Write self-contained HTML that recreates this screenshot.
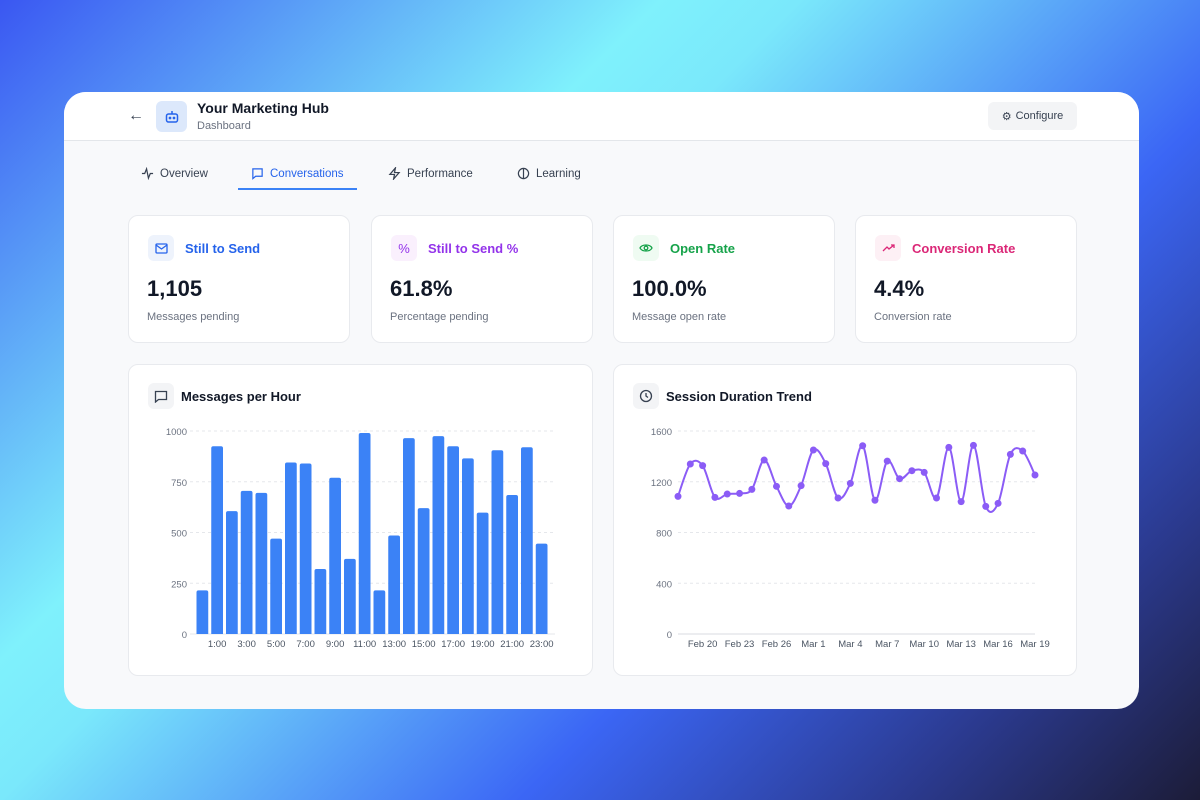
<!DOCTYPE html>
<html><head><meta charset="utf-8"><style>
*{box-sizing:border-box;margin:0;padding:0}
body{width:1200px;height:800px;overflow:hidden;font-family:"Liberation Sans",sans-serif;position:relative;
background:linear-gradient(135deg,#3a57f2 0%,#7ff1fc 33%,#7ae8fb 40%,#3b66f5 66%,#2b3a8f 85%,#1c1c38 100%)}
.abs{position:absolute}
.frame{left:64px;top:92px;width:1075px;height:617px;border-radius:22px;background:#f8f9fb;overflow:hidden}
.header{left:0;top:0;width:1075px;height:49px;background:#fff;border-bottom:1px solid #e3e6ea}
.card{background:#fff;border:1px solid #e8eaee;border-radius:10px}
.ibox{width:26px;height:26px;border-radius:6px;display:flex;align-items:center;justify-content:center}
.lbl{font-size:13px;font-weight:bold}
.val{font-size:22px;font-weight:bold;color:#111827}
.sub{font-size:11px;color:#6b7280}
.tab{font-size:11.5px;color:#374151;display:flex;align-items:center;gap:6px}
.ctitle{font-size:13px;font-weight:bold;color:#111827}
</style></head><body>
<div class="abs frame">
 <div class="abs header">
  <div class="abs" style="left:64px;top:15px;font-size:16px;color:#374151">←</div>
  <div class="abs ibox" style="left:92px;top:9px;width:31px;height:31px;background:#dce8fb">
   <svg width="16" height="16" viewBox="0 0 16 16" fill="none" stroke="#2563eb" stroke-width="1.5"><rect x="2.5" y="5" width="11" height="8" rx="2"/><line x1="8" y1="2" x2="8" y2="5"/><circle cx="6" cy="9" r=".6"/><circle cx="10" cy="9" r=".6"/></svg>
  </div>
  <div class="abs" style="left:133px;top:8px;font-size:14px;font-weight:bold;color:#111827">Your Marketing Hub</div>
  <div class="abs" style="left:133px;top:28px;font-size:11px;color:#6b7280">Dashboard</div>
  <div class="abs" style="left:924px;top:10px;width:89px;height:28px;background:#f3f4f6;border-radius:6px;font-size:11px;color:#374151;display:flex;align-items:center;justify-content:center;gap:4px"><span style="font-size:11px">⚙</span>Configure</div>
 </div>
 <div class="abs tab" style="left:77px;top:75px"><svg width="13" height="13" viewBox="0 0 14 14" fill="none" stroke="#374151" stroke-width="1.3"><polyline points="1,7 4,7 6,2 8,12 10,7 13,7"/></svg>Overview</div>
 <div class="abs tab" style="left:187px;top:75px;color:#2563eb"><svg width="13" height="13" viewBox="0 0 14 14" fill="none" stroke="#2563eb" stroke-width="1.3"><path d="M2 2h10v8H5l-3 2.5z"/></svg>Conversations</div>
 <div class="abs" style="left:174px;top:96px;width:119px;height:2px;background:#3b82f6"></div>
 <div class="abs tab" style="left:324px;top:75px"><svg width="13" height="13" viewBox="0 0 14 14" fill="none" stroke="#374151" stroke-width="1.3"><path d="M8 1L2 8h5l-1 5 6-7H7z"/></svg>Performance</div>
 <div class="abs tab" style="left:453px;top:75px"><svg width="13" height="13" viewBox="0 0 14 14" fill="none" stroke="#374151" stroke-width="1.3"><circle cx="7" cy="7" r="5.5"/><line x1="7" y1="2" x2="7" y2="12"/></svg>Learning</div>

 <div class="abs card" style="left:64px;top:123px;width:222px;height:128px">
  <div class="abs ibox" style="left:19px;top:19px;background:#eef3fc"><svg width="13" height="11" viewBox="0 0 13 11" fill="none" stroke="#2563eb" stroke-width="1.3"><rect x="1" y="1" width="11" height="9" rx="1"/><polyline points="1,2 6.5,6 12,2"/></svg></div>
  <div class="abs lbl" style="left:56px;top:25px;color:#2563eb">Still to Send</div>
  <div class="abs val" style="left:18px;top:60px">1,105</div>
  <div class="abs sub" style="left:18px;top:95px">Messages pending</div>
 </div>
 <div class="abs card" style="left:307px;top:123px;width:222px;height:128px">
  <div class="abs ibox" style="left:19px;top:19px;background:#faf0fd;color:#9333ea;font-size:13px">%</div>
  <div class="abs lbl" style="left:56px;top:25px;color:#9333ea">Still to Send %</div>
  <div class="abs val" style="left:18px;top:60px">61.8%</div>
  <div class="abs sub" style="left:18px;top:95px">Percentage pending</div>
 </div>
 <div class="abs card" style="left:549px;top:123px;width:222px;height:128px">
  <div class="abs ibox" style="left:19px;top:19px;background:#effbf2"><svg width="14" height="10" viewBox="0 0 14 10" fill="none" stroke="#16a34a" stroke-width="1.3"><path d="M1 5C3 1 11 1 13 5C11 9 3 9 1 5z"/><circle cx="7" cy="5" r="1.8"/></svg></div>
  <div class="abs lbl" style="left:56px;top:25px;color:#16a34a">Open Rate</div>
  <div class="abs val" style="left:18px;top:60px">100.0%</div>
  <div class="abs sub" style="left:18px;top:95px">Message open rate</div>
 </div>
 <div class="abs card" style="left:791px;top:123px;width:222px;height:128px">
  <div class="abs ibox" style="left:19px;top:19px;background:#fdf0f5"><svg width="13" height="10" viewBox="0 0 13 10" fill="none" stroke="#db2777" stroke-width="1.3"><polyline points="1,8 5,4 7,6 12,2"/><polyline points="9,2 12,2 12,5"/></svg></div>
  <div class="abs lbl" style="left:56px;top:25px;color:#db2777">Conversion Rate</div>
  <div class="abs val" style="left:18px;top:60px">4.4%</div>
  <div class="abs sub" style="left:18px;top:95px">Conversion rate</div>
 </div>

 <div class="abs card" style="left:64px;top:272px;width:465px;height:312px">
  <div class="abs ibox" style="left:19px;top:18px;background:#f3f4f6"><svg width="14" height="13" viewBox="0 0 14 13" fill="none" stroke="#374151" stroke-width="1.3"><path d="M1.5 1.5h11v8H4.5l-3 2.5z"/></svg></div>
  <div class="abs ctitle" style="left:52px;top:24px">Messages per Hour</div>
 </div>
 <div class="abs card" style="left:549px;top:272px;width:464px;height:312px">
  <div class="abs ibox" style="left:19px;top:18px;background:#f3f4f6"><svg width="14" height="14" viewBox="0 0 14 14" fill="none" stroke="#374151" stroke-width="1.3"><circle cx="7" cy="7" r="5.5"/><polyline points="7,4 7,7 9,8.5"/></svg></div>
  <div class="abs ctitle" style="left:52px;top:24px">Session Duration Trend</div>
 </div>
</div>
<svg id="charts" class="abs" style="left:0;top:0" width="1200" height="800" font-family="Liberation Sans, sans-serif"></svg>
<script>
const hours = Array.from({length:24},(_, i)=>i+':00');
const msgValues = [215,925,605,705,695,470,845,840,320,770,370,990,215,485,965,620,975,925,865,598,905,685,920,445];
const barTicks = [0,250,500,750,1000];
const dates = ['Feb 18','Feb 19','Feb 20','Feb 21','Feb 22','Feb 23','Feb 24','Feb 25','Feb 26','Feb 27','Feb 28','Mar 1','Mar 2','Mar 3','Mar 4','Mar 5','Mar 6','Mar 7','Mar 8','Mar 9','Mar 10','Mar 11','Mar 12','Mar 13','Mar 14','Mar 15','Mar 16','Mar 17','Mar 18','Mar 19'];
const sessionValues = [1085,1340,1327,1077,1103,1108,1140,1371,1164,1009,1169,1450,1343,1072,1187,1484,1054,1363,1224,1287,1274,1072,1471,1043,1487,1006,1030,1416,1442,1253];
const lineTicks = [0,400,800,1200,1600];

const svg=document.getElementById('charts');
const NS='http://www.w3.org/2000/svg';
function mk(tag,attrs,parent){const e=document.createElementNS(NS,tag);for(const k in attrs)e.setAttribute(k,attrs[k]);(parent||svg).appendChild(e);return e;}

const bx0=195,bx1=549,by0=634,by1=431,bMax=1000;
const bY=v=>by0-(v/bMax)*(by0-by1);
const slot=(bx1-bx0)/hours.length;
const bX=i=>bx0+i*slot;
barTicks.forEach(t=>{
 const g=mk('line',{x1:bx0-5,x2:bx1+6,y1:bY(t),y2:bY(t),stroke:'#e5e7eb','stroke-dasharray':t?'3 3':'0'});
 
 
 const tx=mk('text',{x:187,y:bY(t)+4,'text-anchor':'end','font-size':9.5,fill:'#6b7280'});tx.textContent=t;
 
 
});
msgValues.forEach((v,i)=>{
 const w=slot-3,x=bX(i)+1.5,y=bY(v);
 const p=mk('path',{d:`M${x},${by0}V${y+2}q0,-2 2,-2h${w-4}q2,0 2,2V${by0}z`,fill:'#3b82f6'});
 
 
 if(i%2===1){const tx=mk('text',{x:bX(i)+slot/2,y:647,'text-anchor':'middle','font-size':9.5,fill:'#4b5563'});tx.textContent=hours[i];
 
 }
});

const lx0=678,lx1=1035,ly0=634,ly1=431,lMax=1600;
const lY=v=>ly0-(v/lMax)*(ly0-ly1);
const lX=i=>lx0+i*(lx1-lx0)/(dates.length-1);
lineTicks.forEach(t=>{
 const g=mk('line',{x1:678,x2:1035,y1:lY(t),y2:lY(t),stroke:'#e5e7eb','stroke-dasharray':t?'3 3':'0','stroke-width':t?1:1.5});
 
 
 const tx=mk('text',{x:672,y:lY(t)+4,'text-anchor':'end','font-size':9.5,fill:'#6b7280'});tx.textContent=t;
 
 
});
let d='';
const pts=sessionValues.map((v,i)=>[lX(i),lY(v)]);
pts.forEach((p,i)=>{
 if(i===0){d='M'+p[0]+','+p[1];return;}
 const p0=pts[i-2]||pts[i-1],p1=pts[i-1],p2=p,p3=pts[i+1]||p;
 const c1x=p1[0]+(p2[0]-p0[0])/6,c1y=p1[1]+(p2[1]-p0[1])/6,c2x=p2[0]-(p3[0]-p1[0])/6,c2y=p2[1]-(p3[1]-p1[1])/6;
 d+=` C${c1x},${c1y} ${c2x},${c2y} ${p2[0]},${p2[1]}`;
});
const ln=mk('path',{d:d,fill:'none',stroke:'#8b5cf6','stroke-width':2});


pts.forEach((p,i)=>{
 const c=mk('circle',{cx:p[0],cy:p[1],r:3.5,fill:'#8b5cf6'});
 
 
 if(i%3===2){const tx=mk('text',{x:p[0],y:647,'text-anchor':'middle','font-size':9.5,fill:'#4b5563'});tx.textContent=dates[i];
 
 }
});
</script>
</body></html>
